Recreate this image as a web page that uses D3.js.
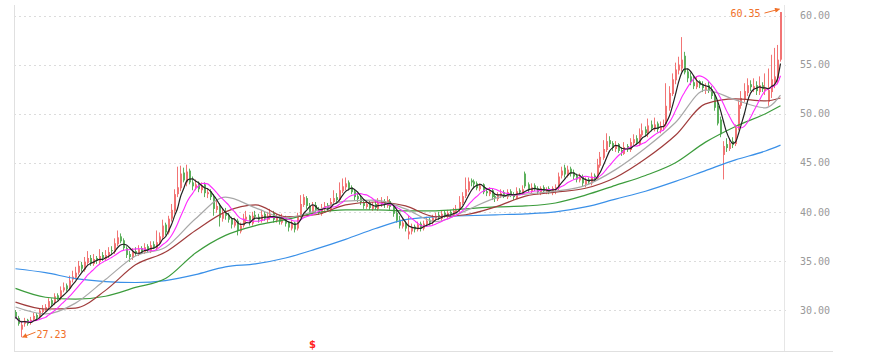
<!DOCTYPE html>
<html><head><meta charset="utf-8">
<script src="https://cdn.jsdelivr.net/npm/d3@7"></script>
<style>html,body{margin:0;padding:0;background:#fff;}svg{display:block}</style>
</head><body><svg id="chart" width="878" height="360"></svg>
<script>
const opens = [
29.8,29.2,28.0,28.6,29.0,28.7,29.0,29.5,29.3,29.8,
30.0,30.3,31.0,30.7,31.5,31.2,32.0,32.5,32.2,33.1,
33.3,33.8,34.6,34.1,34.8,35.3,34.7,35.3,34.9,35.6,
35.2,35.5,36.1,35.9,36.7,37.5,37.1,36.3,35.7,35.3,
36.0,35.7,36.3,35.9,36.5,36.0,36.7,36.3,36.8,37.4,
38.7,37.9,39.3,40.1,41.8,42.4,44.0,43.0,44.2,43.0,
42.5,42.9,42.2,42.8,41.8,42.1,41.6,40.2,40.7,39.3,
39.9,39.7,39.3,38.6,39.1,38.0,38.6,39.2,39.6,38.8,
39.7,39.5,39.1,39.8,39.2,39.5,39.9,39.1,39.5,38.9,
39.4,38.9,38.3,38.9,38.3,39.6,40.7,41.4,40.6,39.9,
40.7,40.3,39.8,40.3,40.7,40.2,41.0,41.5,41.2,42.1,
42.5,43.0,42.5,42.1,41.6,41.4,41.0,40.5,40.9,40.3,
40.8,40.3,40.8,41.1,40.6,41.1,40.6,39.9,39.2,38.5,
38.9,37.7,38.0,38.5,38.2,38.8,38.3,38.7,39.2,38.9,
39.3,39.7,39.3,39.9,39.5,40.0,39.6,40.0,40.2,40.9,
41.6,42.2,43.2,43.1,42.9,42.3,42.8,42.1,41.8,42.2,
41.6,41.3,41.6,42.0,41.5,42.1,41.8,41.4,42.2,41.9,
43.9,42.8,42.1,42.7,42.4,41.9,42.5,42.0,42.4,41.9,
42.3,42.4,43.7,44.5,43.7,44.4,44.0,43.7,43.2,43.6,
42.8,43.3,42.9,43.7,43.4,44.7,45.5,46.3,47.3,47.0,
46.4,46.9,46.3,45.9,46.7,46.3,47.0,47.5,46.9,47.8,
48.4,47.9,48.9,48.4,49.0,48.3,48.6,48.9,50.6,52.0,
53.4,54.4,54.6,55.9,54.3,53.8,53.2,52.7,53.3,53.0,
52.4,52.9,52.5,51.9,50.8,49.4,45.8,46.9,46.4,47.2,
46.9,48.5,50.8,51.5,52.1,53.0,52.5,52.9,52.2,52.9,
52.3,51.2,52.2,53.1,53.6,55.5];
const highs = [
30.0,29.4,28.9,29.2,29.1,29.3,29.7,29.7,30.2,30.5,
30.6,31.2,31.2,31.7,31.7,32.4,32.8,32.7,33.5,34.0,
34.4,35.0,34.9,35.4,36.0,35.6,35.7,35.5,36.2,35.9,
36.1,36.4,36.5,37.3,38.1,37.8,37.3,36.5,36.0,36.3,
36.4,36.6,36.5,36.8,36.7,37.0,37.0,38.1,37.9,39.2,
38.9,39.6,40.8,42.3,44.6,44.7,44.5,44.8,44.4,43.6,
43.3,43.1,43.0,43.0,42.4,42.3,41.8,41.2,40.9,40.3,
40.4,39.9,39.5,39.4,39.3,38.9,39.8,40.1,39.7,40.0,
40.1,39.8,40.2,40.0,40.0,40.3,40.1,39.8,39.7,39.8,
39.6,39.0,39.2,39.0,39.9,41.7,41.8,41.6,40.9,41.0,
41.0,40.5,40.8,41.0,40.9,41.4,42.2,41.9,43.0,43.4,
43.5,43.2,42.7,42.3,41.9,41.7,41.2,41.2,41.1,41.0,
41.2,41.4,41.5,41.3,41.6,41.3,40.8,40.1,39.6,39.4,
39.1,39.6,38.8,38.7,39.0,39.0,39.1,39.5,39.4,39.7,
39.9,40.0,40.1,40.1,40.2,40.2,40.4,40.7,41.6,42.0,
43.5,43.5,43.4,43.3,43.1,42.9,42.9,42.4,42.5,42.4,
41.9,42.0,42.3,42.2,42.3,42.3,42.0,42.5,42.4,42.7,
44.1,43.0,42.9,42.9,42.6,42.6,42.7,42.5,42.6,42.6,
42.8,44.0,44.6,44.8,44.7,44.6,44.3,43.9,43.9,43.8,
43.5,43.5,44.0,43.9,45.4,46.1,47.3,48.0,47.7,47.2,
47.2,47.0,46.6,47.1,46.9,47.5,47.9,47.8,48.5,49.0,
48.7,49.5,49.3,49.6,49.2,49.2,49.4,53.1,52.8,54.1,
55.2,55.8,57.8,56.3,54.6,54.2,53.8,53.8,53.4,53.3,
53.1,53.3,52.8,52.2,51.2,49.7,47.2,47.5,47.5,47.6,
48.9,51.4,52.3,53.1,53.6,53.4,53.6,53.3,53.8,53.2,
54.1,54.6,56.0,56.7,57.0,60.35];
const lows = [
29.1,28.4,27.23,28.3,28.4,28.5,28.9,29.0,29.1,29.6,
29.8,30.1,30.4,30.5,31.0,31.0,31.8,31.9,32.0,32.8,
33.1,33.6,33.9,33.9,34.6,34.5,34.5,34.7,34.7,35.0,
35.0,35.3,35.6,35.7,36.5,36.8,36.1,35.3,34.9,35.1,
35.5,35.5,35.8,35.7,35.8,35.8,36.2,36.1,36.6,37.2,
37.6,37.7,39.0,39.8,41.5,42.1,43.0,42.6,42.8,42.2,
42.2,42.0,41.9,41.5,41.4,41.2,39.6,39.9,38.5,39.0,
39.2,38.9,38.3,38.4,37.6,37.8,38.4,38.9,38.6,38.6,
39.2,38.9,38.9,39.1,38.9,39.2,38.9,38.9,38.7,38.7,
38.5,38.0,38.1,37.9,38.1,39.4,40.5,40.3,39.8,39.7,
40.0,39.7,39.6,40.1,40.1,40.0,40.8,41.0,41.0,41.9,
42.2,42.2,41.8,41.2,41.0,40.7,40.3,40.3,40.2,40.1,
40.2,40.1,40.5,40.4,40.4,40.2,39.5,38.9,38.3,38.3,
38.0,37.2,37.7,37.9,38.0,38.0,38.1,38.5,38.6,38.7,
39.1,39.2,39.1,39.4,39.3,39.5,39.5,39.9,40.0,40.7,
41.4,42.0,42.6,42.4,42.2,42.1,41.8,41.6,41.6,41.2,
41.0,41.1,41.4,41.4,41.3,41.5,41.2,41.3,41.7,41.7,
42.4,42.0,41.9,42.1,41.8,41.7,41.9,41.8,41.8,41.7,
41.8,42.2,43.4,43.5,43.5,43.6,43.3,43.0,43.0,42.6,
42.5,42.8,42.7,43.1,43.3,44.5,45.3,46.1,46.6,46.2,
46.1,46.0,45.7,45.8,46.1,46.1,46.8,46.8,46.7,47.6,
47.7,47.6,48.2,48.2,48.1,48.0,48.3,48.7,50.3,51.8,
53.0,54.0,54.3,54.0,53.2,52.9,52.5,52.5,52.6,52.2,
52.0,52.1,51.5,50.3,48.8,47.6,43.3,46.1,46.2,46.5,
46.7,48.3,50.5,51.2,51.8,52.3,52.2,51.9,51.9,52.2,
51.9,50.8,51.6,52.6,53.0,55.3];
const closes = [
29.3,28.6,28.5,28.9,28.6,29.0,29.4,29.2,29.9,30.1,
30.3,30.9,30.6,31.4,31.2,32.0,32.3,32.1,33.0,33.4,
33.8,34.5,34.2,34.9,35.3,34.8,35.2,35.0,35.5,35.3,
35.6,35.9,36.0,36.8,37.4,37.0,36.3,35.6,35.4,35.9,
35.8,36.2,36.0,36.4,36.1,36.6,36.4,36.9,37.5,38.6,
37.9,39.3,40.2,41.8,42.5,43.9,43.2,44.1,43.0,42.6,
42.8,42.3,42.7,41.9,42.0,41.5,40.3,40.6,39.4,39.8,
39.6,39.2,38.7,39.0,38.1,38.6,39.3,39.5,38.9,39.6,
39.5,39.2,39.7,39.3,39.6,39.8,39.2,39.4,39.0,39.3,
38.8,38.4,38.9,38.2,39.6,40.8,41.5,40.6,40.0,40.6,
40.2,39.9,40.4,40.6,40.3,41.0,41.4,41.2,42.2,42.6,
42.9,42.4,42.0,41.5,41.3,41.0,40.6,40.8,40.4,40.7,
40.4,40.9,41.0,40.7,41.2,40.5,39.8,39.1,38.6,38.9,
38.3,38.0,38.4,38.2,38.7,38.3,38.8,39.1,38.9,39.4,
39.6,39.4,39.8,39.6,39.9,39.7,40.1,40.3,41.0,41.6,
42.3,43.1,43.0,42.8,42.4,42.7,42.0,41.9,42.1,41.5,
41.4,41.7,41.9,41.6,42.0,41.7,41.5,42.1,42.0,42.3,
42.6,42.2,42.5,42.3,42.0,42.4,42.1,42.3,42.0,42.4,
42.5,43.6,44.2,43.8,44.3,43.9,43.6,43.3,43.5,42.9,
43.2,43.0,43.6,43.4,44.8,45.6,46.4,47.2,46.9,46.5,
46.8,46.2,46.0,46.6,46.4,47.1,47.4,47.0,47.9,48.3,
48.0,48.8,48.5,48.9,48.4,48.7,48.9,50.8,52.1,53.5,
54.5,55.0,55.5,54.2,53.6,53.3,52.8,53.2,52.9,52.6,
52.7,52.4,51.8,50.6,49.0,47.9,46.7,46.5,47.0,46.8,
48.6,50.9,51.6,52.3,52.9,52.7,52.8,52.3,52.9,52.5,
52.6,52.4,53.5,53.8,55.5,60.35];

// long moving averages at these candle indices
const maKnotIndex = [0,10,20,30,40,50,60,70,80,90,100,110,120,130,140,150,160,170,180,190,200,210,220,230,240,250,255];
const ma20Knots  = [30.3,29.6,30.7,33.1,35.5,36.4,39.3,41.5,40.4,39.4,40.1,41.1,41.2,40.3,39.0,40.1,41.4,41.8,42.1,42.7,44.3,46.5,49.1,52.4,51.4,50.6,51.9];
const ma30Knots  = [30.8,30.1,30.2,32.0,34.6,35.9,38.1,40.0,40.7,39.5,39.7,40.7,41.0,40.6,39.5,39.7,40.5,41.6,42.0,42.4,43.5,45.4,47.8,51.0,51.5,51.3,51.6];
const ma60Knots  = [32.2,31.3,31.1,31.4,32.3,33.2,35.8,37.6,38.6,39.2,39.9,40.2,40.2,40.1,40.1,40.3,40.5,40.6,40.9,41.7,42.7,43.7,45.0,47.1,48.7,50.0,50.8];
const ma120Knots = [34.2,33.8,33.2,32.9,32.8,33.0,33.6,34.4,34.7,35.3,36.2,37.2,38.3,39.2,39.5,39.6,39.7,39.8,40.0,40.5,41.3,42.1,43.1,44.2,45.3,46.2,46.8];

const yTicks = [30,35,40,45,50,55,60];
const lowMark = [2, 27.23];
const highMark = [255, 60.35];
const eventMark = [99, "$"];

const svg = d3.select('#chart');
const n = closes.length;
const x = d3.scaleLinear().domain([0, n-1]).range([15.5, 780.5]);
const y = d3.scaleLinear().domain([30, 60]).range([310, 15.5]);

// grid
svg.append('g').selectAll('line').data(yTicks).join('line')
  .attr('x1', 14).attr('x2', 786)
  .attr('y1', d => Math.round(y(d)) + 0.5).attr('y2', d => Math.round(y(d)) + 0.5)
  .attr('stroke', '#dcdcdc').attr('stroke-dasharray', '2,3');

// frame
svg.append('line').attr('x1',14.5).attr('x2',14.5).attr('y1',5).attr('y2',351).attr('stroke','#e0e0e0');
svg.append('line').attr('x1',784.5).attr('x2',784.5).attr('y1',5).attr('y2',351).attr('stroke','#e6e6e6');
svg.append('line').attr('x1',14).attr('x2',833).attr('y1',351.5).attr('y2',351.5).attr('stroke','#e0e0e0');

// axis labels
const axis = d3.axisRight(y).tickValues(yTicks).tickFormat(d3.format('.2f')).tickSize(0).tickPadding(16);
const ag = svg.append('g').attr('transform', 'translate(784,0)').call(axis);
ag.select('.domain').remove();
ag.selectAll('text').attr('font-family', 'DejaVu Sans Mono, monospace').attr('font-size', 10).attr('fill', '#999');

// candles
const idx = d3.range(n);
const col = i => closes[i] >= opens[i] ? '#f27474' : '#5cb05c';
const cg = svg.append('g');
cg.selectAll('line').data(idx).join('line')
  .attr('x1', i => Math.round(x(i)) - 0.5).attr('x2', i => Math.round(x(i)) - 0.5)
  .attr('y1', i => y(highs[i])).attr('y2', i => y(lows[i]))
  .attr('stroke', col).attr('stroke-width', 1);
cg.selectAll('rect').data(idx).join('rect')
  .attr('x', i => Math.round(x(i)) - 1).attr('width', 2)
  .attr('y', i => y(Math.max(opens[i], closes[i])))
  .attr('height', i => Math.max(1, Math.abs(y(opens[i]) - y(closes[i]))))
  .attr('fill', col);

// moving averages
function movingAvg(period) {
  return idx.map(i => d3.mean(closes.slice(Math.max(0, i - period + 1), i + 1)));
}
const ma5 = movingAvg(5);
const ma10 = movingAvg(10);
const lineIdx = d3.line().x((d, i) => x(i)).y(d => y(d)).curve(d3.curveMonotoneX);
const lineKnot = d3.line().x((d, i) => x(maKnotIndex[i])).y(d => y(d)).curve(d3.curveMonotoneX);
const lg = svg.append('g').attr('fill', 'none');
lg.append('path').attr('d', lineKnot(ma120Knots)).attr('stroke', '#3a90e8').attr('stroke-width', 1.2);
lg.append('path').attr('d', lineKnot(ma60Knots)).attr('stroke', '#3c9c3c').attr('stroke-width', 1.2);
lg.append('path').attr('d', lineKnot(ma30Knots)).attr('stroke', '#a03c3c').attr('stroke-width', 1.2);
lg.append('path').attr('d', lineKnot(ma20Knots)).attr('stroke', '#a8a8a8').attr('stroke-width', 1.2);
lg.append('path').attr('d', lineIdx(ma10)).attr('stroke', '#ff2bff').attr('stroke-width', 1.1);
lg.append('path').attr('d', lineIdx(ma5)).attr('stroke', '#222').attr('stroke-width', 1.2);

// annotations
const orange = '#f07028';
const defs = svg.append('defs');
defs.append('marker').attr('id', 'arr').attr('viewBox', '0 0 10 10').attr('refX', 9).attr('refY', 5)
  .attr('markerWidth', 6).attr('markerHeight', 5).attr('orient', 'auto')
  .append('path').attr('d', 'M0,0L10,5L0,10z').attr('fill', orange);

const lx = x(lowMark[0]), ly = y(lowMark[1]);
svg.append('line').attr('x1', lx + 14).attr('y1', ly - 5).attr('x2', lx + 1).attr('y2', ly)
  .attr('stroke', orange).attr('marker-end', 'url(#arr)');
svg.append('text').attr('x', lx + 15).attr('y', ly + 0.5).text(lowMark[1].toFixed(2))
  .attr('font-family', 'DejaVu Sans Mono, monospace').attr('font-size', 10).attr('fill', orange);

const hx = x(highMark[0]), hy = y(highMark[1]);
svg.append('line').attr('x1', hx - 16).attr('y1', hy + 1).attr('x2', hx - 1).attr('y2', hy - 3)
  .attr('stroke', orange).attr('marker-end', 'url(#arr)');
svg.append('text').attr('x', hx - 20).attr('y', hy + 4.5).attr('text-anchor', 'end').text(highMark[1].toFixed(2))
  .attr('font-family', 'DejaVu Sans Mono, monospace').attr('font-size', 10).attr('fill', orange);

svg.append('text').attr('x', x(eventMark[0])).attr('y', 348).attr('text-anchor', 'middle')
  .text(eventMark[1]).attr('font-family', 'DejaVu Sans, sans-serif').attr('font-weight', 'bold')
  .attr('font-size', 10).attr('fill', '#ff2020');
</script></body></html>
